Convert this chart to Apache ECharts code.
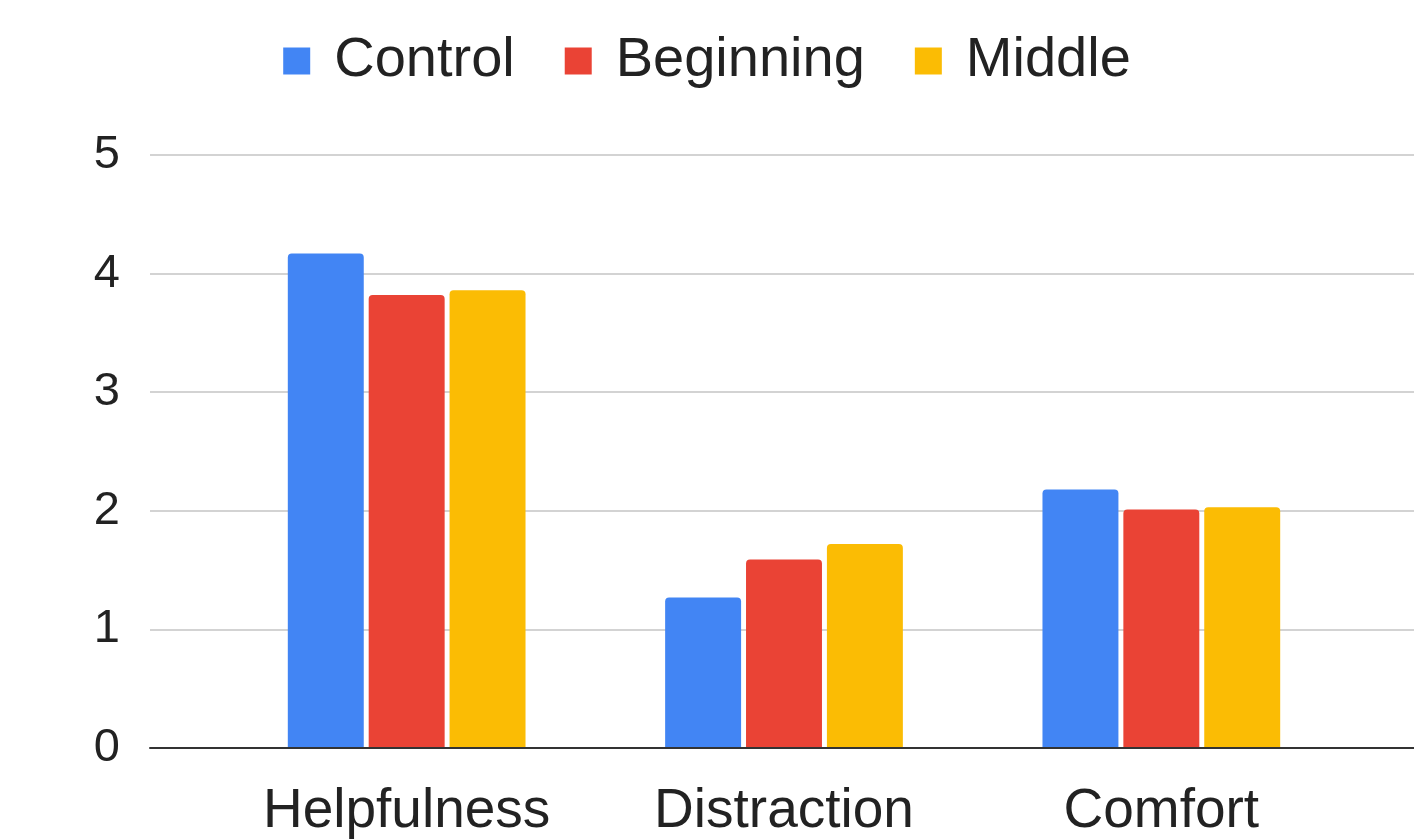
<!DOCTYPE html>
<html>
<head>
<meta charset="utf-8">
<script src="https://cdn.jsdelivr.net/npm/echarts@6/dist/echarts.min.js"></script>
<style>
html,body{margin:0;padding:0;background:#fff;}
#chart{width:1414px;height:840px;}
</style>
</head>
<body>
<div id="chart"></div>
<script>
const categories = ['Helpfulness', 'Distraction', 'Comfort'];
const seriesNames = ['Control', 'Beginning', 'Middle'];
const controlValues = [4.17, 1.27, 2.18];
const beginningValues = [3.82, 1.59, 2.01];
const middleValues = [3.86, 1.72, 2.03];
const yTicks = [0, 1, 2, 3, 4, 5];

const colors = ['#4285F4', '#EA4335', '#FBBC04'];
const seriesValues = [controlValues, beginningValues, middleValues];
const font = 'Liberation Sans, Arial, sans-serif';

const chart = echarts.init(document.getElementById('chart'), null, {renderer: 'canvas'});
chart.setOption({
  animation: false,
  backgroundColor: '#ffffff',
  color: colors,
  legend: {
    data: seriesNames,
    top: 28,
    left: 'center',
    icon: 'rect',
    itemWidth: 27,
    itemHeight: 27,
    itemGap: 50,
    textStyle: {
      fontFamily: font,
      fontSize: 56,
      color: '#222222',
      lineHeight: 56,
      padding: [0, 0, 0, 19]
    }
  },
  grid: [
    {left: 150, right: 0, top: 155, bottom: 92},
    {left: 218, right: 64, top: 155, bottom: 92}
  ],
  xAxis: [
    {
      gridIndex: 0, type: 'category', data: [''],
      axisLabel: {show: false}, axisTick: {show: false},
      axisLine: {show: true, lineStyle: {color: '#333333', width: 2}},
      z: 5
    },
    {
      gridIndex: 1, type: 'category', data: categories,
      axisLine: {show: false}, axisTick: {show: false},
      axisLabel: {interval: 0, hideOverlap: false, fontFamily: font, fontSize: 55, color: '#222222', margin: 36}
    }
  ],
  yAxis: [
    {
      gridIndex: 0, type: 'value', min: yTicks[0], max: yTicks[yTicks.length - 1], interval: 1,
      axisLine: {show: false}, axisTick: {show: false},
      axisLabel: {fontFamily: font, fontSize: 47, color: '#222222', margin: 30},
      splitLine: {show: true, lineStyle: {color: '#d3d3d3', width: 2}}
    },
    {
      gridIndex: 1, type: 'value', min: yTicks[0], max: yTicks[yTicks.length - 1], interval: 1,
      show: false, splitLine: {show: false}
    }
  ],
  series: seriesNames.map((name, i) => ({
    name: name,
    type: 'bar',
    xAxisIndex: 1,
    yAxisIndex: 1,
    data: seriesValues[i],
    barCategoryGap: '37%',
    barGap: '6.5%',
    itemStyle: {color: colors[i], borderRadius: [4, 4, 0, 0]}
  }))
});
</script>
</body>
</html>
